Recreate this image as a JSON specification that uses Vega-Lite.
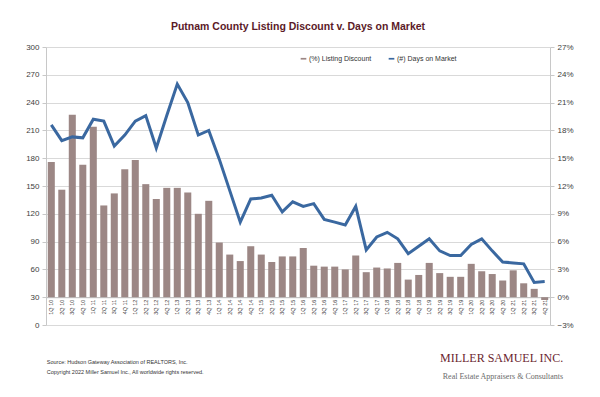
{
  "$schema": "https://vega.github.io/schema/vega-lite/v6.json",
  "width": 504,
  "height": 278,
  "autosize": {"type": "none"},
  "padding": {"left": 46, "top": 47, "right": 50, "bottom": 72},
  "background": "white",
  "config": {
    "font": "Liberation Sans",
    "view": {"stroke": null},
    "axis": {"labelFont": "Liberation Sans", "labelColor": "#404040", "domainColor": "#c8c8c8", "tickColor": "#c8c8c8", "gridColor": "#d9d9d9"}
  },
  "title": {
    "text": "Putnam County Listing Discount v. Days on Market",
    "color": "#5b1a28",
    "fontSize": 10.5,
    "fontWeight": "bold",
    "offset": 11,
    "anchor": "middle"
  },
  "data": {
    "values": [
      {"q": "1Q 10", "pct": 0.146, "dom": 216},
      {"q": "2Q 10", "pct": 0.116, "dom": 199},
      {"q": "3Q 10", "pct": 0.197, "dom": 203},
      {"q": "4Q 10", "pct": 0.143, "dom": 202},
      {"q": "1Q 11", "pct": 0.184, "dom": 222},
      {"q": "2Q 11", "pct": 0.099, "dom": 220},
      {"q": "3Q 11", "pct": 0.112, "dom": 193},
      {"q": "4Q 11", "pct": 0.138, "dom": 205},
      {"q": "1Q 12", "pct": 0.148, "dom": 220},
      {"q": "2Q 12", "pct": 0.122, "dom": 226},
      {"q": "3Q 12", "pct": 0.106, "dom": 191},
      {"q": "4Q 12", "pct": 0.118, "dom": 226},
      {"q": "1Q 13", "pct": 0.118, "dom": 260},
      {"q": "2Q 13", "pct": 0.113, "dom": 240},
      {"q": "3Q 13", "pct": 0.090, "dom": 205},
      {"q": "4Q 13", "pct": 0.104, "dom": 210},
      {"q": "1Q 14", "pct": 0.059, "dom": 179},
      {"q": "2Q 14", "pct": 0.046, "dom": 145},
      {"q": "3Q 14", "pct": 0.039, "dom": 111},
      {"q": "4Q 14", "pct": 0.055, "dom": 136},
      {"q": "1Q 15", "pct": 0.046, "dom": 137},
      {"q": "2Q 15", "pct": 0.038, "dom": 140},
      {"q": "3Q 15", "pct": 0.044, "dom": 122},
      {"q": "4Q 15", "pct": 0.044, "dom": 133},
      {"q": "1Q 16", "pct": 0.053, "dom": 128},
      {"q": "2Q 16", "pct": 0.034, "dom": 131},
      {"q": "3Q 16", "pct": 0.033, "dom": 114},
      {"q": "4Q 16", "pct": 0.033, "dom": 111},
      {"q": "1Q 17", "pct": 0.030, "dom": 108},
      {"q": "2Q 17", "pct": 0.045, "dom": 128},
      {"q": "3Q 17", "pct": 0.027, "dom": 81},
      {"q": "4Q 17", "pct": 0.032, "dom": 95},
      {"q": "1Q 18", "pct": 0.031, "dom": 100},
      {"q": "2Q 18", "pct": 0.037, "dom": 93},
      {"q": "3Q 18", "pct": 0.019, "dom": 77},
      {"q": "4Q 18", "pct": 0.024, "dom": 85},
      {"q": "1Q 19", "pct": 0.037, "dom": 93},
      {"q": "2Q 19", "pct": 0.026, "dom": 80},
      {"q": "3Q 19", "pct": 0.022, "dom": 75},
      {"q": "4Q 19", "pct": 0.022, "dom": 75},
      {"q": "1Q 20", "pct": 0.036, "dom": 87},
      {"q": "2Q 20", "pct": 0.028, "dom": 93},
      {"q": "3Q 20", "pct": 0.025, "dom": 80},
      {"q": "4Q 20", "pct": 0.018, "dom": 68},
      {"q": "1Q 21", "pct": 0.029, "dom": 67},
      {"q": "2Q 21", "pct": 0.015, "dom": 66},
      {"q": "3Q 21", "pct": 0.009, "dom": 46},
      {"q": "4Q 21", "pct": -0.003, "dom": 47}
    ]
  },
  "layer": [
    {
      "mark": {"type": "bar"},
      "encoding": {
        "x": {
          "field": "q",
          "type": "ordinal",
          "sort": null,
          "scale": {"paddingInner": 0.33, "paddingOuter": 0.17},
          "axis": {
            "title": null,
            "offset": -27.8,
            "labelAngle": -90,
            "labelFontSize": 5.5,
            "labelPadding": 2,
            "ticks": false,
            "domainColor": "#bfbfbf"
          }
        },
        "y": {
          "field": "pct",
          "type": "quantitative",
          "scale": {"domain": [-0.03, 0.27], "nice": false, "zero": false},
          "axis": {
            "orient": "right",
            "title": null,
            "values": [-0.03, 0, 0.03, 0.06, 0.09, 0.12, 0.15, 0.18, 0.21, 0.24, 0.27],
            "format": ".0%",
            "grid": false,
            "labelFontSize": 8,
            "tickSize": 4,
            "labelPadding": 3
          }
        },
        "color": {
          "datum": "(%) Listing Discount",
          "scale": {
            "domain": ["(%) Listing Discount", "(#) Days on Market"],
            "range": ["#9c8785", "#3a68a0"]
          },
          "legend": {
            "orient": "none",
            "legendX": 254,
            "legendY": 8,
            "direction": "horizontal",
            "title": null,
            "labelFontSize": 7,
            "labelColor": "#333333",
            "symbolType": "M-1,-0.3H1V0.3H-1Z",
            "symbolSize": 32,
            "symbolStrokeWidth": 0,
            "columnPadding": 16,
            "labelOffset": 2
          }
        }
      }
    },
    {
      "mark": {"type": "line", "strokeWidth": 3},
      "encoding": {
        "x": {"field": "q", "type": "ordinal", "sort": null},
        "y": {
          "field": "dom",
          "type": "quantitative",
          "scale": {"domain": [0, 300], "nice": false},
          "axis": {
            "orient": "left",
            "title": null,
            "values": [0, 30, 60, 90, 120, 150, 180, 210, 240, 270, 300],
            "grid": true,
            "labelFontSize": 8,
            "tickSize": 4,
            "labelPadding": 3
          }
        },
        "color": {"datum": "(#) Days on Market"}
      }
    },
    {
      "data": {"values": [{"t": "Source: Hudson Gateway Association of REALTORS, Inc.\nCopyright 2022 Miller Samuel Inc., All worldwide rights reserved."}]},
      "mark": {"type": "text", "align": "left", "baseline": "top", "fontSize": 5.5, "lineHeight": 10.5, "lineBreak": "\n", "color": "#333333", "dx": -1},
      "encoding": {
        "x": {"datum": "1Q 10", "bandPosition": 0},
        "y": {"datum": -37.5, "type": "quantitative", "scale": {"domain": [0, 300], "nice": false}, "axis": null},
        "text": {"field": "t"}
      }
    },
    {
      "data": {"values": [{"t": "MILLER SAMUEL INC."}]},
      "mark": {"type": "text", "align": "right", "baseline": "middle", "font": "Liberation Serif", "fontSize": 12, "color": "#6b1f30", "dx": 15},
      "encoding": {
        "x": {"datum": "4Q 21", "bandPosition": 1},
        "y": {"datum": -35.5, "type": "quantitative", "scale": {"domain": [0, 300], "nice": false}, "axis": null},
        "text": {"field": "t"}
      }
    },
    {
      "data": {"values": [{"t": "Real Estate Appraisers & Consultants"}]},
      "mark": {"type": "text", "align": "right", "baseline": "middle", "font": "Liberation Serif", "fontSize": 8, "color": "#6a6a6a", "dx": 15},
      "encoding": {
        "x": {"datum": "4Q 21", "bandPosition": 1},
        "y": {"datum": -56, "type": "quantitative", "scale": {"domain": [0, 300], "nice": false}, "axis": null},
        "text": {"field": "t"}
      }
    }
  ],
  "resolve": {"scale": {"y": "independent"}}
}
